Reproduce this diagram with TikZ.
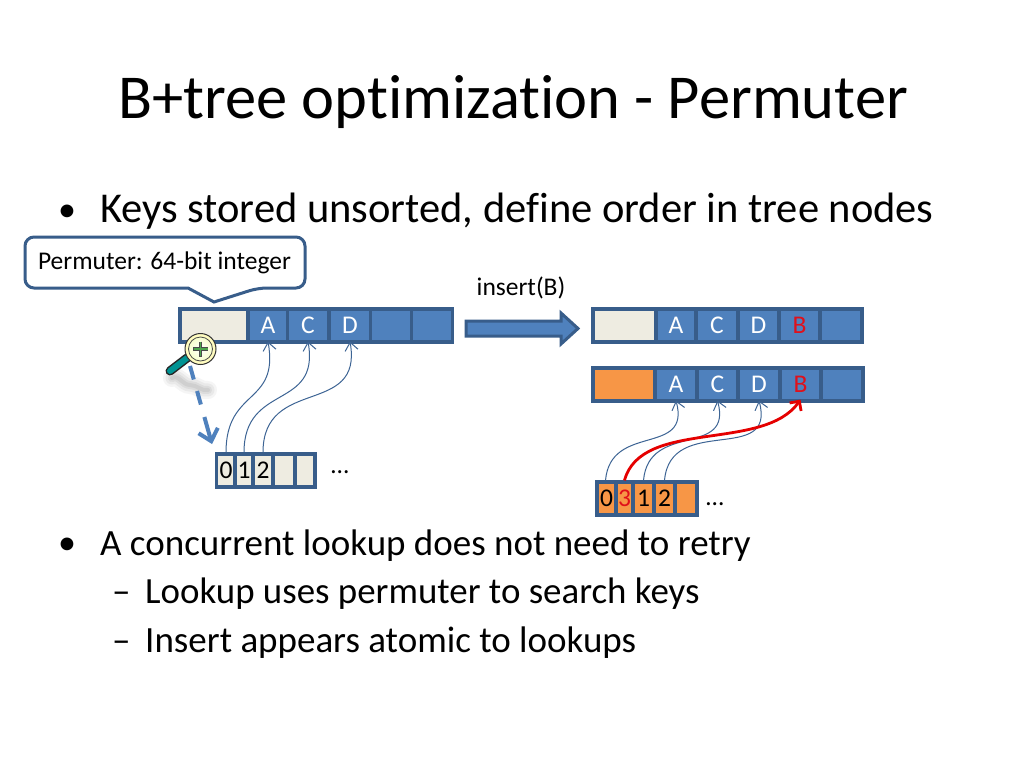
\documentclass[tikz,border=0pt]{standalone}
\usepackage{fontspec}
\setmainfont[Ligatures=NoCommon,Contextuals=NoAlternate]{Carlito}
\usetikzlibrary{arrows.meta}
\definecolor{cellblue}{HTML}{4F81BD}
\definecolor{celledge}{HTML}{385D8A}
\definecolor{cellbeige}{HTML}{EEECE1}
\definecolor{cellorange}{HTML}{F79646}
\definecolor{keyred}{HTML}{E0101A}
\tikzset{
  cell/.style={draw=celledge,line width=3.2pt,inner sep=0pt,anchor=center,
    font=\fontsize{25.5}{28}\selectfont,text height=16.5pt,text depth=0pt},
  keycell/.style={cell,fill=cellblue,text=white,minimum height=33pt},
  metacell/.style={cell,fill=cellbeige,minimum height=33pt},
  permcell/.style={cell,fill=cellbeige,minimum height=33pt},
  ordercell/.style={cell,fill=cellorange,minimum height=33pt},
  ptr/.style={->,color=celledge!80!cellblue,line width=1pt,>={Straight Barb[length=8pt,width=13pt]}},
  newptr/.style={->,color=red!90!black,line width=2.8pt,>={Straight Barb[length=7pt,width=14pt]}},
  textline/.style={anchor=base west,inner sep=0pt},
  label/.style={inner sep=0pt,font=\fontsize{25.5}{28}\selectfont},
}
\begin{document}
\begin{tikzpicture}[x=1pt,y=-1pt]
  \fill[white] (0,0) rectangle (1024,768);
  \node[textline,font=\fontsize{62.5}{70}\selectfont] (title) at (118,118) {B+tree optimization - Permuter};
  % bullets
  \node[textline,font=\fontsize{36}{44}\selectfont] (bulleta) at (58,221) {•};
  \node[textline,font=\fontsize{42.5}{48}\selectfont] (linea) at (100,222) {Keys stored unsorted, define order in tree nodes};
  \node[textline,font=\fontsize{36}{40}\selectfont] (bulletb) at (58,554) {•};
  \node[textline,font=\fontsize{37}{40}\selectfont] (lineb) at (100,555) {A concurrent lookup does not need to retry};
  \node[textline,font=\fontsize{37}{40}\selectfont] (dashc) at (112,603) {–};
  \node[textline,font=\fontsize{36.9}{40}\selectfont] (linec) at (145,603) {Lookup uses permuter to search keys};
  \node[textline,font=\fontsize{37}{40}\selectfont] (dashd) at (112,652) {–};
  \node[textline,font=\fontsize{37}{40}\selectfont] (lined) at (145,652) {Insert appears atomic to lookups};
  % left row
  \node[metacell,minimum width=68pt] (lm) at (214,325.5) {};
  \foreach \name/\x/\w/\txt in {la/268/40/A,lc/308/41/C,ld/350/42/D,le/391/41/,lf/432/41/}
    \node[keycell,minimum width=\w pt] (\name) at (\x,325.5) {\txt};
  % left permuter
  \foreach \name/\x/\w/\txt in {p0/226/19/0,p1/244/18/1,p2/263/20/2,p3/284/22/,p4/305/20/}
    \node[permcell,minimum width=\w pt] (\name) at (\x,470.5) {\txt};
  \node[label] (ldots) at (340,472) {…};
  % right rows
  \node[metacell,minimum width=63pt] (rm) at (624.5,325.5) {};
  \foreach \name/\x/\w/\txt in {ra/676/40/A,rc/717/42/C,rd/758.5/41/D,rb/799.5/41/{\color{keyred}B},rf/841/42/}
    \node[keycell,minimum width=\w pt] (\name) at (\x,325.5) {\txt};
  \node[ordercell,minimum width=62pt] (sm) at (624,384.5) {};
  \foreach \name/\x/\w/\txt in {sa/676/42/A,sc/717.5/41/C,sd/759/42/D,sb/800.5/41/{\color{keyred}B},sf/842/42/}
    \node[keycell,minimum width=\w pt] (\name) at (\x,384.5) {\txt};
  \foreach \name/\x/\w/\txt in {q0/606.5/19/0,q3/624.5/17/{\color{keyred}3},q1/643.5/21/1,q2/664.5/21/2,q4/686/22/}
    \node[ordercell,minimum width=\w pt] (\name) at (\x,498.5) {\txt};
  \node[label] (rdots) at (715,504) {…};
  % insert arrow
  \node[label] (insert) at (521,288) {insert(B)};
  \draw[draw=celledge,fill=cellblue,line width=3pt,line join=miter]
    (466,321) -- (561,321) -- (561,313) -- (578,328.5) -- (561,344) -- (561,336) -- (466,336) -- cycle;
  % callout
  \draw[draw=celledge,fill=white,line width=3pt,rounded corners=9pt]
    (25,237) -- (305,237) -- (305,288) -- (258,288) [sharp corners] -- (214,302) -- (188,288)
    [rounded corners=9pt] -- (25,288) -- cycle;
  \node[label] (permuter) at (164.5,263) {Permuter: 64-bit integer};
  % pointers
  \draw[ptr] (p0.north) to[out=90,in=-80,looseness=1.4] ([yshift=2pt]la.south);
  \draw[ptr] (p1.north) to[out=90,in=-80,looseness=1.4] ([yshift=2pt]lc.south);
  \draw[ptr] (p2.north) to[out=90,in=-80,looseness=1.4] ([yshift=2pt]ld.south);
  \draw[ptr] ([xshift=-1pt]q0.north) to[out=85,in=-75,looseness=1.4] ([yshift=2pt]sa.south);
  \draw[ptr] (q1.north) to[out=85,in=-75,looseness=1.4] ([yshift=2pt]sc.south);
  \draw[ptr] (q2.north) to[out=85,in=-75,looseness=1.4] ([yshift=2pt]sd.south);
  \draw[newptr] (q3.north) to[out=75,in=-125,looseness=0.85] ([yshift=3pt]sb.south);
  % magnifier
  \foreach \o/\b in {.08/18,.10/13,.12/8,.14/4}
    \draw[gray,opacity=\o,line width=\b pt,line cap=round] (172,378) to[out=30,in=180] (190,385) to[out=0,in=190] (208,390);
  \draw[black!85,line width=9pt,line cap=round] (170,371) -- (187,358);
  \draw[teal!85!cyan,line width=6pt,line cap=round] (170,371) -- (187,358);
  \draw[black!80,line width=1pt,fill=yellow!25!white] (200.5,349) circle (15.5);
  \draw[black!70,line width=0.8pt,inner color=white,outer color=green!15!yellow!20] (200.5,349) circle (12);
  \draw[black!70,line width=3.6pt] (193,349) -- (208,349) (200.5,341.5) -- (200.5,356.5);
  \draw[green!50!black!70!white,line width=1.8pt] (193.5,349) -- (207.5,349) (200.5,342) -- (200.5,356);
  % dashed link
  \coordinate (lens) at (190,366);
  \coordinate (target) at (212,444);
  \draw[->,color=cellblue,line width=4pt,dash pattern=on 14pt off 12pt on 14pt off 13pt on 40pt off 1pt,>={Straight Barb[length=11pt,width=20pt]}]
    (lens) -- (target);
\end{tikzpicture}
\end{document}
